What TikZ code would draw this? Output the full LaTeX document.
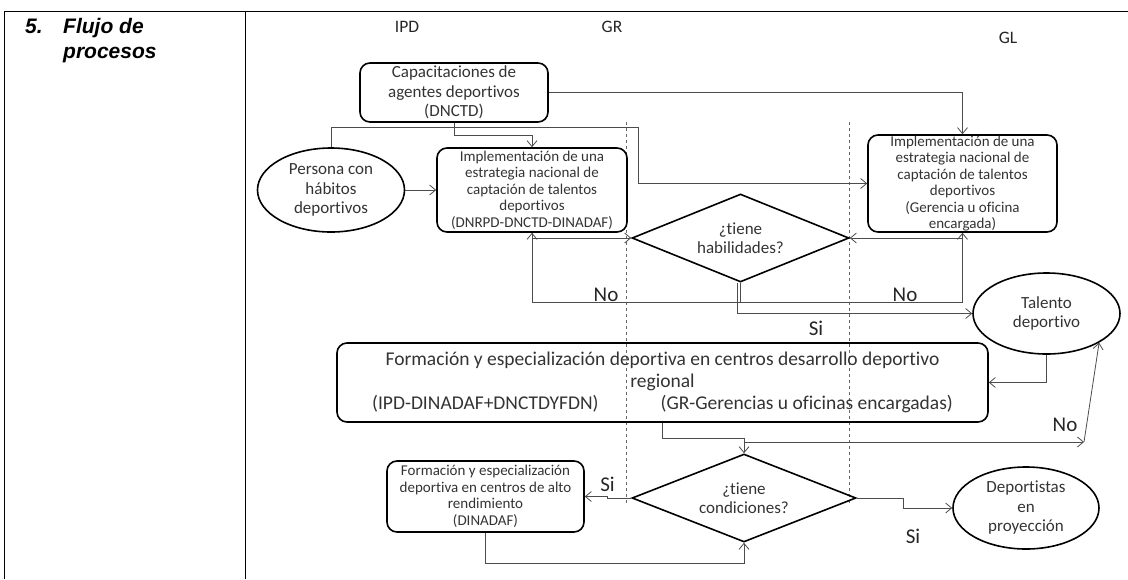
\documentclass[tikz,border=0pt]{standalone}
\usepackage{fontspec}
\setmainfont{Carlito}[Ligatures={NoCommon}]
\newfontfamily\headfont{Liberation Sans}
\usetikzlibrary{shapes.geometric,arrows.meta}

\begin{document}
\begin{tikzpicture}
	[
		x=1pt, y=-1pt,
		box/.style = {shape=rectangle, draw=black, line width=1.6pt, rounded corners=10pt, align=center, inner sep=0pt, text=black!80},
		bigtext/.style = {font=\fontsize{17}{19.5}\selectfont},
		smalltext/.style = {font=\fontsize{15}{16.5}\selectfont},
		oval/.style = {shape=ellipse, draw=black, line width=1.6pt, align=center, inner sep=0pt, text=black!80, font=\fontsize{17}{19.5}\selectfont},
		decision/.style = {shape=diamond, draw=black, line width=1.6pt, aspect=2.5, align=center, inner sep=0pt, text=black!80, font=\fontsize{17}{19.5}\selectfont},
		flow/.style = {draw=black!70, line width=0.8pt, -{Straight Barb[length=6pt,width=10pt]}},
		lane/.style = {draw=black!60, line width=0.8pt, dashed},
		answer/.style = {font=\fontsize{21}{23}\selectfont, text=black!85, inner sep=0pt},
		lanehead/.style = {font=\fontsize{17.5}{19}\selectfont, text=black!85}
	]
	
	\useasboundingbox (0,0) rectangle (1128,579);
	
	\def\ytop{122}
	\def\ybot{505}
	
	\draw [line width=0.9pt] (4,11) -- (1128,11);
	\draw [line width=0.9pt] (4,11) -- (4,579);
	\draw [line width=0.9pt] (245,11) -- (245,579);
	
	\node [anchor=base west, inner sep=0pt, font=\headfont\bfseries\itshape\fontsize{21}{25}\selectfont] (titnum) at (25,33) {5.};
	\node [anchor=north west, inner sep=0pt, align=left, font=\headfont\bfseries\itshape\fontsize{21}{25}\selectfont] (tittext) at (63,18) {Flujo de\\procesos};
	
	\node [lanehead] (ipd) at (407,27) {IPD};
	\node [lanehead] (gr) at (612,27) {GR};
	\node [lanehead] (gl) at (1008,38) {GL};
	
	\draw [lane] (626,\ytop) -- (626,\ybot);
	\draw [lane] (849,\ytop) -- (849,\ybot);
	
	\node [box, bigtext, minimum width=188pt, minimum height=59pt] (cap) at (454,92.5) {Capacitaciones de\\agentes deportivos\\(DNCTD)};
	\node [oval, minimum width=147pt, minimum height=84pt] (persona) at (331,190) {Persona con\\hábitos\\deportivos};
	\node [box, smalltext, minimum width=190pt, minimum height=84pt] (implnac) at (532,190) {Implementación de una\\estrategia nacional de\\captación de talentos\\deportivos\\(DNRPD-DNCTD-DINADAF)};
	\node [box, smalltext, minimum width=189pt, minimum height=97pt] (implgl) at (962.5,183.5) {Implementación de una\\estrategia nacional de\\captación de talentos\\deportivos\\(Gerencia u oficina\\encargada)};
	\node [decision, minimum width=217pt, minimum height=88pt] (hab) at (740.5,238) {¿tiene\\habilidades?};
	\node [oval, minimum width=147pt, minimum height=81pt] (talento) at (1046.5,313.5) {Talento\\deportivo};
	\node [box, font=\fontsize{19.5}{22}\selectfont, minimum width=651pt, minimum height=79pt] (formreg) at (662.5,382.5) {Formación y especialización deportiva en centros desarrollo deportivo\\regional\\(IPD-DINADAF+DNCTDYFDN)\hspace{62pt}(GR-Gerencias u oficinas encargadas)};
	\node [box, smalltext, minimum width=197pt, minimum height=71pt] (alto) at (485.5,496.5) {Formación y especialización\\deportiva en centros de alto\\rendimiento\\(DINADAF)};
	\node [decision, minimum width=224pt, minimum height=88pt] (cond) at (744,498) {¿tiene\\condiciones?};
	\node [oval, minimum width=146pt, minimum height=82pt] (deport) at (1026,508) {Deportistas\\en\\proyección};
	
	\coordinate (bendb) at (638,127);
	\coordinate (nostart) at (744,442);
	\coordinate (nobend) at (1084,442);
	
	\draw [flow] (cap.south) -- ++(0,13) -| (implnac.north);
	\draw [flow] (persona.north) |- (bendb) |- (implgl.west);
	\draw [flow] (cap.east) -| (implgl.north);
	\draw [flow] (persona) -- (implnac);
	\draw [flow] (implnac.south) |- (hab.west);
	\draw [flow] (implgl.south) |- (hab.east);
	\draw [flow] (hab.south) -- ++(0,20) -| (implnac.south);
	\draw [flow] (hab.south) -- ++(0,20) -| (implgl.south);
	\draw [flow] ([xshift=-3pt]hab.south) |- (talento.west);
	\draw [flow] (talento.south) |- (formreg.east);
	\draw [flow] (formreg.south) -- ++(0,16) -| (cond.north);
	\draw [flow] (nostart) -- (nobend);
	\draw [flow] (nobend) -- (talento.-29);
	\draw [flow] (cond.west) -- ++(-24,0) |- (alto.east);
	\draw [flow] (alto.south) -- ++(0,31) -| (cond.south);
	\draw [flow] (cond.east) -- ++(47,0) |- (deport.west);
	
	\node [answer] (nohabl) at (606,295) {No};
	\node [answer] (nohabr) at (905,295) {No};
	\node [answer] (sihab) at (816,328) {Si};
	\node [answer] (nocond) at (1065,425) {No};
	\node [answer] (sialto) at (607.5,484.5) {Si};
	\node [answer] (sidep) at (913,536.5) {Si};
	
\end{tikzpicture}
\end{document}
